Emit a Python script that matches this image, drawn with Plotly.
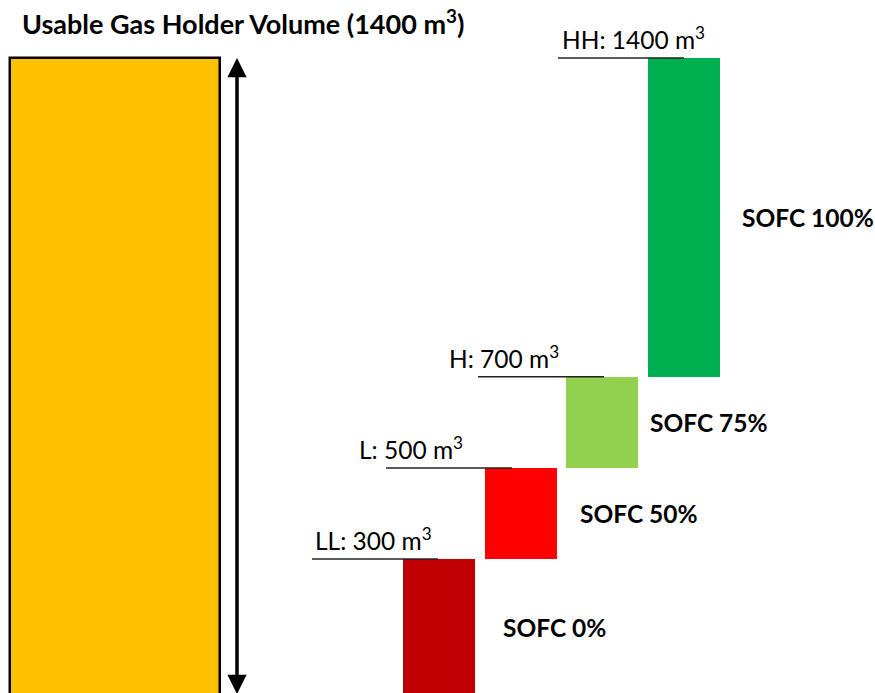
import plotly.graph_objects as go

# Gas holder operating levels and the SOFC load assigned to each band
levels = ["LL", "L", "H", "HH"]
level_volumes = [300, 500, 700, 1400]          # m3
sofc_loads = ["SOFC 0%", "SOFC 50%", "SOFC 75%", "SOFC 100%"]
holder_volume = 1400                           # usable volume, m3

band_colors = ["#C00000", "#FF0000", "#92D050", "#00B050"]
holder_color = "#FFC000"

bases = [0] + level_volumes[:-1]
heights = [v - b for v, b in zip(level_volumes, bases)]

W, H = 875, 693
FONT = "Lato"

# axis ranges: bars sit at integer x positions 0..3
X_RANGE = [-5.373, 5.337]
Y_RANGE = [5.7, 1527.3]
PX_PER_X = W / (X_RANGE[1] - X_RANGE[0])


def px_to_x(px):
    return X_RANGE[0] + px / PX_PER_X


bar_w = 0.88
xs = list(range(len(levels)))

fig = go.Figure()

# usable holder volume column
holder_x = px_to_x(115)
fig.add_trace(go.Bar(
    x=[holder_x], y=[holder_volume], base=[0], width=[210 / PX_PER_X],
    marker=dict(color=holder_color, line=dict(color="black", width=2.5)),
    hoverinfo="skip",
))

# SOFC load bands
fig.add_trace(go.Bar(
    x=xs, y=heights, base=bases, width=bar_w,
    marker=dict(color=band_colors, line=dict(width=0)),
    hoverinfo="skip",
))

# double arrow spanning the full holder volume
arrow_x = px_to_x(237)
fig.add_annotation(
    x=arrow_x, y=holder_volume, ax=arrow_x, ay=0,
    xref="x", yref="y", axref="x", ayref="y",
    showarrow=True, text="", arrowside="end+start",
    arrowhead=2, startarrowhead=2, arrowsize=1.1, startarrowsize=1.1,
    arrowwidth=3.5, arrowcolor="black",
)

# level markers and their labels
line_start_px = [312, 386, 478, 558]
line_len_px = 126
label_left_px = [313, 357, 447, 560]
for i, (lvl, vol) in enumerate(zip(levels, level_volumes)):
    fig.add_shape(
        type="line", xref="x", yref="y",
        x0=px_to_x(line_start_px[i]),
        x1=px_to_x(line_start_px[i] + line_len_px),
        y0=vol, y1=vol,
        line=dict(color="#222222", width=1.5),
    )
    fig.add_annotation(
        x=px_to_x(label_left_px[i]), y=vol, xref="x", yref="y",
        text=f"{lvl}: {vol} m<sup>3</sup>", showarrow=False,
        xanchor="left", yanchor="bottom", yshift=2,
        font=dict(family=FONT, size=24.5, color="black"),
    )

# SOFC load labels beside each band
label_gap_px = [26, 21, 10, 20]
for i, (name, b, v) in enumerate(zip(sofc_loads, bases, level_volumes)):
    fig.add_annotation(
        x=i + bar_w / 2 + label_gap_px[i] / PX_PER_X, y=(b + v) / 2,
        xref="x", yref="y",
        text=f"<b>{name}</b>", showarrow=False,
        xanchor="left", yanchor="middle",
        font=dict(family=FONT, size=24.5, color="black"),
    )

# title above the holder column
fig.add_annotation(
    x=20 / W, y=1 - 22 / H, xref="paper", yref="paper",
    text=f"<b>Usable Gas Holder Volume ({holder_volume} m<sup>3</sup>)</b>",
    showarrow=False, xanchor="left", yanchor="middle",
    font=dict(family=FONT, size=27, color="black"),
)

fig.update_xaxes(range=X_RANGE, visible=False, fixedrange=True)
fig.update_yaxes(range=Y_RANGE, visible=False, fixedrange=True)
fig.update_layout(
    width=W, height=H,
    margin=dict(l=0, r=0, t=0, b=0),
    paper_bgcolor="white", plot_bgcolor="white",
    showlegend=False, barmode="overlay", bargap=0,
)

fig.write_html("out.html")
